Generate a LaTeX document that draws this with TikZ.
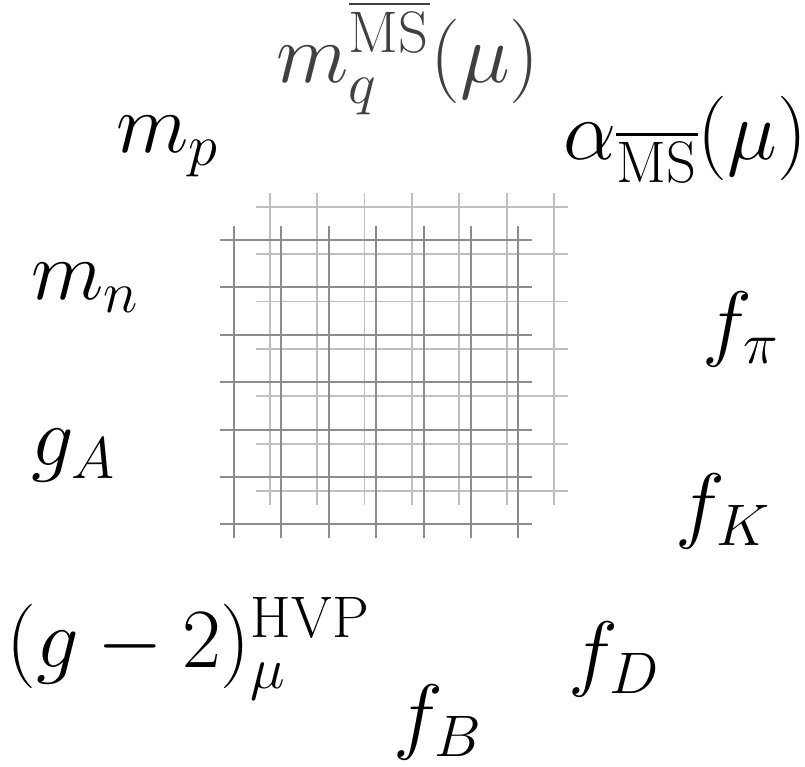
\documentclass[tikz,border=0pt]{standalone}
\usepackage{amsmath}
\DeclareMathSizes{24.88}{24.88}{17.28}{14.4}
\newcommand{\MSbar}{\overline{\mathrm{MS}}}

\begin{document}
\begin{tikzpicture}[
  lbl/.style={inner sep=0pt,anchor=base west,font=\Huge,scale=1.93},
  gridback/.style={draw=black!25,line width=1pt},
  gridfront/.style={draw=black!45,line width=1.1pt}]

\useasboundingbox (0,0) rectangle (16.1,15.34);

% lattice: back layer first, then the front layer over it
\foreach \i in {0,...,6} {
  \draw[gridback] ({5.394+0.948*\i},5.238) -- ++(0,6.248);
  \draw[gridback] (5.114,{5.518+0.948*\i}) -- ++(6.248,0);
}
\foreach \i in {0,...,6} {
  \draw[gridfront] ({4.68+0.948*\i},4.572) -- ++(0,6.248);
  \draw[gridfront] (4.40,{4.852+0.948*\i}) -- ++(6.248,0);
}

% observables round the lattice
\node[lbl,text=black!75] (mq) at (5.52,13.68) {$m_q^{\MSbar}(\mu)$};
\node[lbl] (mp) at (2.32,12.28) {$m_p$};
\node[lbl] (alphas) at (11.26,12.14) {$\alpha_{\MSbar}(\mu)$};
\node[lbl] (mn) at (0.62,9.34) {$m_n$};
\node[lbl] (fpi) at (14.04,8.32) {$f_\pi$};
\node[lbl] (gA) at (0.62,6.02) {$g_A$};
\node[lbl] (fK) at (13.5,4.68) {$f_K$};
\node[lbl] (gmtwo) at (0.12,1.98) {$(g-2)_\mu^{\mathrm{HVP}}$};
\node[lbl] (fD) at (11.36,1.72) {$f_D$};
\node[lbl] (fB) at (7.86,0.46) {$f_B$};
\end{tikzpicture}
\end{document}
